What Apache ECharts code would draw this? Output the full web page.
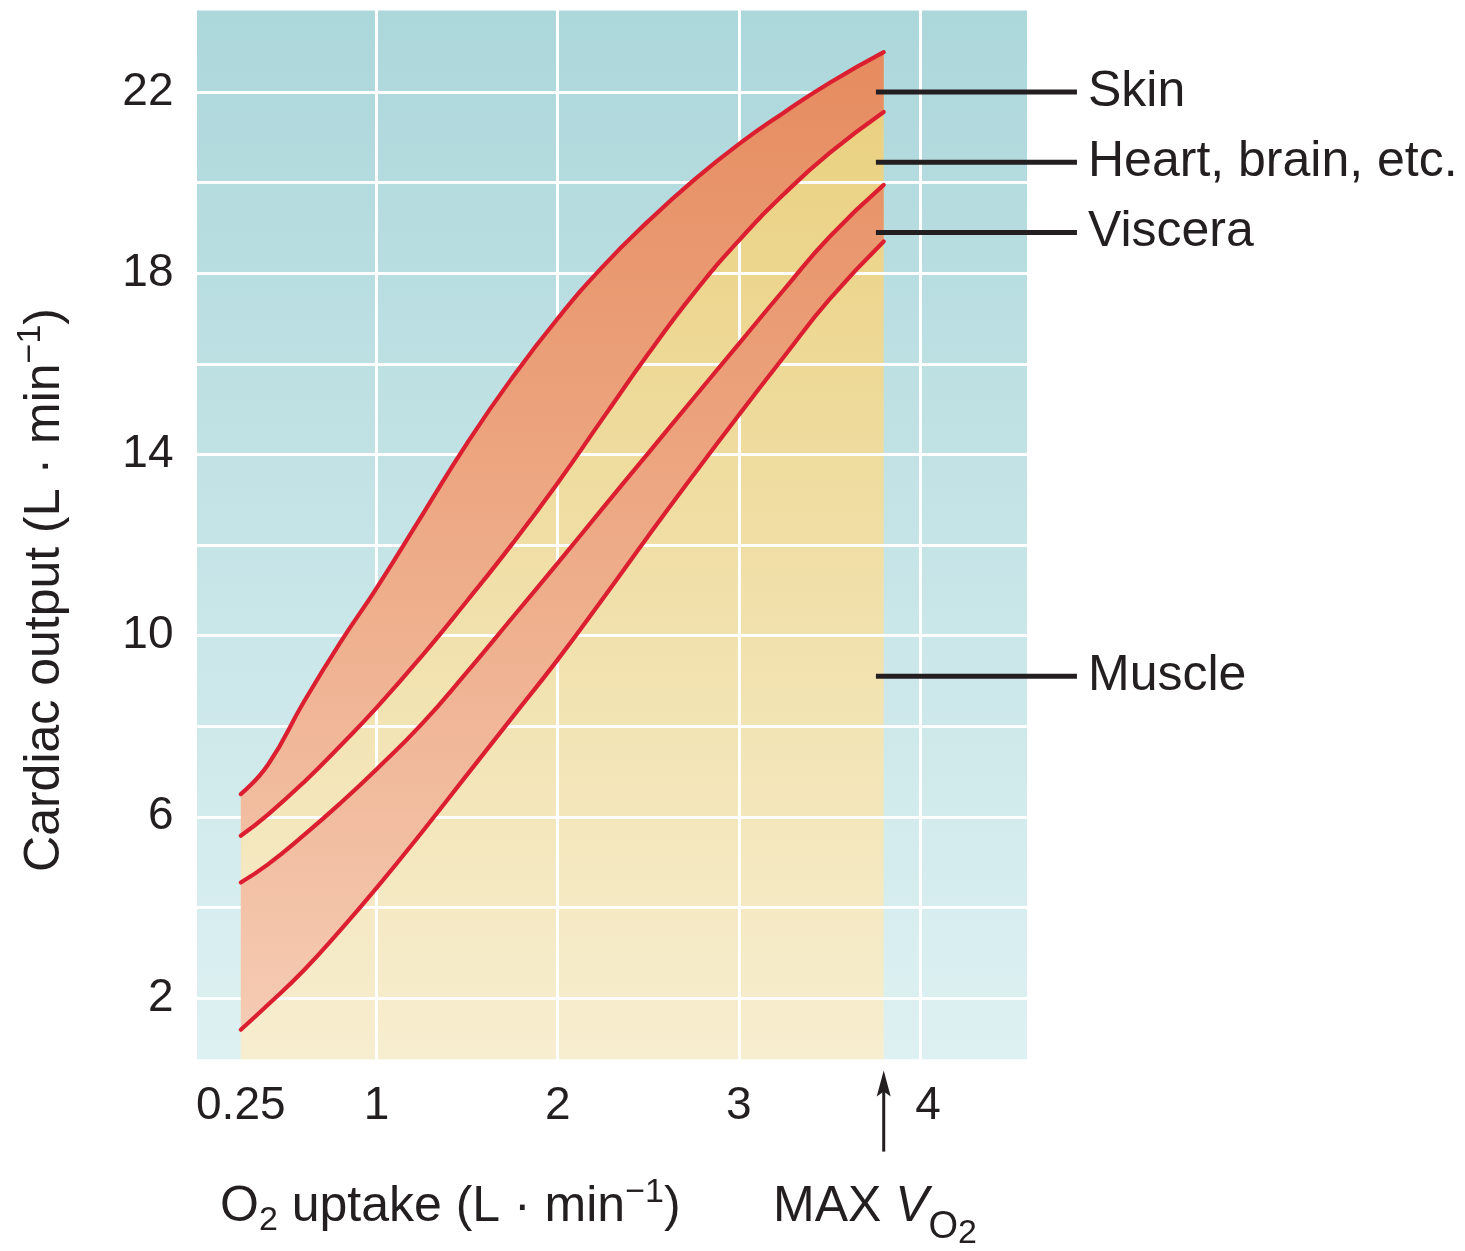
<!DOCTYPE html>
<html><head><meta charset="utf-8">
<script src="https://cdn.jsdelivr.net/npm/echarts@6/dist/echarts.min.js"></script>
<style>html,body{margin:0;padding:0;background:#fff}#c{width:1465px;height:1251px}</style>
</head><body><div id="c"></div>
<script>
// ---- data ----
const xValues = [0.25, 0.4, 0.6, 0.8, 1.0, 1.25, 1.5, 1.75, 2.0, 2.25, 2.5, 2.75, 3.0, 3.25, 3.5, 3.8];
const skin    = [6.5, 7.15, 8.55, 9.85, 11.05, 12.65, 14.25, 15.7, 17.0, 18.15, 19.15, 20.05, 20.85, 21.55, 22.2, 22.88];
const heart   = [5.58, 6.05, 6.77, 7.57, 8.41, 9.55, 10.77, 12.03, 13.37, 14.8, 16.22, 17.55, 18.72, 19.75, 20.65, 21.56];
const viscera = [4.55, 4.95, 5.6, 6.3, 7.05, 8.05, 9.2, 10.4, 11.6, 12.82, 14.03, 15.24, 16.44, 17.64, 18.8, 19.95];
const muscle  = [1.3, 1.85, 2.62, 3.5, 4.43, 5.66, 6.93, 8.2, 9.47, 10.82, 12.2, 13.55, 14.87, 16.16, 17.42, 18.7];
const xTickLabels = [0.25, 1, 2, 3, 4];
const yTickLabels = [2, 6, 10, 14, 18, 22];
const plotXRange = [0, 4.6];
const plotYRange = [0.65, 23.8];
const labelNames = ['Skin', 'Heart, brain, etc.', 'Viscera', 'Muscle'];
const labelLevels = [22.0, 20.45, 18.9, 9.1];
const maxVO2 = 3.8;
const labelLineFrom = 3.757, labelLineTo = 4.867, labelTextAt = 4.928;

// ---- styles ----
const FONT = "'Liberation Sans', Arial, Helvetica, sans-serif";
const INK = '#231f20';
const RED = '#dc1f30';
const SMOOTH = 0.5;
const salmon = {type:'linear', x:0, y:50, x2:0, y2:1030, global:true,
  colorStops:[{offset:0,color:'#e68b5f'},{offset:0.4,color:'#eca47e'},{offset:1,color:'#f5cbb3'}]};
const yellow = {type:'linear', x:0, y:50, x2:0, y2:1060, global:true,
  colorStops:[{offset:0,color:'#e9cf7c'},{offset:1,color:'#f7eed0'}]};

// rows are [value, x] so that the stacked dimension is the vertical one
const rowsYX = a => xValues.map((x,i)=>[a[i], x]);
const rowsDiffYX = (a,b) => xValues.map((x,i)=>[+(a[i]-b[i]).toFixed(4), x]);
const pair = a => xValues.map((x,i)=>[x, a[i]]);

const chart = echarts.init(document.getElementById('c'), null, {renderer:'canvas'});

const stackBase = {type:'line', stack:'bands', smooth:SMOOTH, symbol:'none', z:3, silent:true,
  dimensions:['val','xv'], encode:{x:'xv', y:'val'},
  lineStyle:{width:0, opacity:0}};

const option = {
  animation:false,
  backgroundColor:'#ffffff',
  grid:{left:195.5, right:436.4, top:1.4, bottom:162.4, containLabel:false},
  xAxis:{type:'value', min:0, max:4.6, interval:1, z:2,
    axisLine:{show:false}, axisTick:{show:false},
    splitLine:{show:true, lineStyle:{color:'#ffffff', width:3}},
    axisLabel:{customValues:xTickLabels, fontSize:46, fontFamily:FONT, color:INK, margin:-5,
      formatter:v => v===4 ? '{r|4}' : String(v),
      rich:{r:{fontSize:46, fontFamily:FONT, color:INK, padding:[0,0,0,16]}}}},
  yAxis:{type:'value', min:0, max:24, interval:2, z:2,
    axisLine:{show:false}, axisTick:{show:false},
    splitLine:{show:true, lineStyle:{color:'#ffffff', width:3}},
    axisLabel:{customValues:yTickLabels, fontSize:46, fontFamily:FONT, color:INK, margin:22}},
  series:[
    // plot background
    {type:'custom', z:0, silent:true, clip:false,
      data:[[plotXRange[0], plotYRange[0], plotXRange[1], plotYRange[1]]],
      encode:{x:[0,2], y:[1,3]},
      renderItem:(p, api) => {
        const a = api.coord([api.value(0), api.value(3)]);
        const b = api.coord([api.value(2), api.value(1)]);
        return {type:'rect', shape:{x:a[0], y:a[1], width:b[0]-a[0], height:b[1]-a[1]},
          style:{fill:new echarts.graphic.LinearGradient(0,0,0,1,[
            {offset:0,color:'#acd7db'},{offset:1,color:'#def1f2'}])}};
      }},
    // yellow region under the total curve
    {type:'line', name:'total', data:pair(skin), smooth:SMOOTH, symbol:'none', z:1, silent:true,
      lineStyle:{width:0, opacity:0},
      areaStyle:{color:yellow, opacity:1, origin:plotYRange[0]}},
    // stacked bands
    Object.assign({}, stackBase, {name:'b1', data:rowsYX(muscle)}),
    Object.assign({}, stackBase, {name:'b2', data:rowsDiffYX(viscera, muscle), areaStyle:{color:salmon, opacity:1}}),
    Object.assign({}, stackBase, {name:'b3', data:rowsDiffYX(heart, viscera)}),
    Object.assign({}, stackBase, {name:'b4', data:rowsDiffYX(skin, heart), areaStyle:{color:salmon, opacity:1}}),
    // red boundary lines
    ...[skin, heart, viscera, muscle].map((arr, k) => ({type:'line', name:'line'+k, data:pair(arr),
      smooth:SMOOTH, symbol:'none', z:4, silent:true,
      lineStyle:{color:RED, width:4.2, cap:'round'}})),
    // label leader lines and texts
    {type:'custom', z:5, silent:true, clip:false,
      data:labelNames.map((n,i)=>[labelLineFrom, labelLineTo, labelLevels[i], labelTextAt, i]),
      encode:{x:[0,1,3], y:2},
      renderItem:(p, api) => {
        const y = api.value(2);
        const a = api.coord([api.value(0), y]);
        const b = api.coord([api.value(1), y]);
        const t = api.coord([api.value(3), y]);
        return {type:'group', children:[
          {type:'line', shape:{x1:a[0], y1:a[1], x2:b[0], y2:b[1]}, style:{stroke:INK, lineWidth:5}},
          {type:'text', x:t[0], y:t[1], style:{text:labelNames[api.value(4)], fill:INK,
            fontSize:50, fontFamily:FONT, align:'left', verticalAlign:'middle'}}
        ]};
      }},
    // MAX VO2 arrow
    {type:'custom', z:5, silent:true, clip:false,
      data:[[maxVO2, 0]], encode:{x:0, y:1},
      renderItem:(p, api) => {
        const c = api.coord([api.value(0), api.value(1)]);
        const x = c[0], y0 = c[1];
        return {type:'group', children:[
          {type:'line', shape:{x1:x, y1:y0+2, x2:x, y2:y0+63}, style:{stroke:INK, lineWidth:3}},
          {type:'polygon', shape:{points:[[x, y0-18],[x-7, y0+8],[x, y0+3],[x+7, y0+8]]}, style:{fill:INK}}
        ]};
      }}
  ],
  graphic:[
    {type:'text', x:45, y:590, rotation:Math.PI/2, silent:true,
      style:{text:'{a|Cardiac output (L · min}{s|−1}{a|)}', align:'center', verticalAlign:'middle',
        rich:{a:{fontSize:50, fontFamily:FONT, fill:INK, lineHeight:62},
              s:{fontSize:34, fontFamily:FONT, fill:INK, lineHeight:14, verticalAlign:'top'}}}},
    {type:'text', x:220, y:1207, silent:true,
      style:{text:'{a|O}{b|2}{a| uptake (L · min}{s|−1}{a|)}', align:'left', verticalAlign:'middle',
        rich:{a:{fontSize:50, fontFamily:FONT, fill:INK, lineHeight:62},
              b:{fontSize:34, fontFamily:FONT, fill:INK, lineHeight:32, verticalAlign:'bottom'},
              s:{fontSize:34, fontFamily:FONT, fill:INK, lineHeight:14, verticalAlign:'top'}}}},
    {type:'text', x:773, y:1207, silent:true,
      style:{text:'{a|MAX }{v|V}{o|O}', align:'left', verticalAlign:'middle',
        rich:{a:{fontSize:50, fontFamily:FONT, fill:INK, lineHeight:80},
              v:{fontSize:50, fontFamily:FONT, fontStyle:'italic', fill:INK, lineHeight:80},
              o:{fontSize:38, fontFamily:FONT, fill:INK, lineHeight:50, verticalAlign:'bottom'}}}},
    {type:'text', x:958, y:1234, silent:true,
      style:{text:'2', fontSize:34, fontFamily:FONT, fill:INK, align:'left', verticalAlign:'middle'}}
  ]
};
chart.setOption(option);
</script></body></html>
